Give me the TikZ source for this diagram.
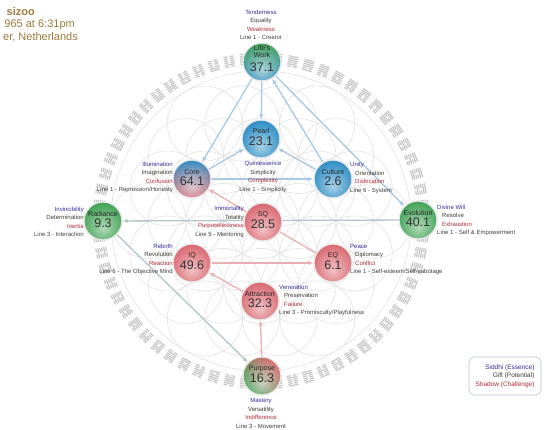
\documentclass[tikz,border=0pt]{standalone}
\usepackage{fontspec}
\setmainfont{Liberation Sans}
\usetikzlibrary{arrows.meta,fadings}
\pgfdeclarelayer{back}
\pgfdeclarelayer{mid}
\pgfsetlayers{back,mid,main}

\definecolor{gkblue}{HTML}{2589C2}
\definecolor{gkblueD}{HTML}{0F4E7C}
\definecolor{gkgreen}{HTML}{3A9F4E}
\definecolor{gkgreenD}{HTML}{17622A}
\definecolor{gkred}{HTML}{D9636C}
\definecolor{gkredD}{HTML}{A82536}
\definecolor{gkmixD}{HTML}{2F3E46}
\definecolor{sidc}{HTML}{2F2F96}
\definecolor{giftc}{HTML}{3C3C30}
\definecolor{shadc}{HTML}{B02A35}
\definecolor{linec}{HTML}{404040}
\definecolor{conblue}{HTML}{A9C8E1}
\definecolor{congrey}{HTML}{B4C5CC}
\definecolor{conred}{HTML}{E8B0B3}
\definecolor{hdrc}{HTML}{9C7B3E}
\definecolor{flowerc}{HTML}{E3E3E3}
\definecolor{hexc}{HTML}{C4C4C4}
\definecolor{legc}{HTML}{B8C2D6}

\pgfdeclareradialshading{gkglowsh}{\pgfpoint{0bp}{-10bp}}{color(0bp)=(white!60!black); color(10bp)=(white!40!black); color(30bp)=(black); color(50bp)=(black)}
\pgfdeclarefading{gkglow}{\pgfuseshading{gkglowsh}}
\pgfdeclareradialshading{gkrimsh}{\pgfpointorigin}{color(0bp)=(black); color(24bp)=(black); color(50bp)=(white!85!black)}
\pgfdeclarefading{gkrim}{\pgfuseshading{gkrimsh}}

\tikzset{
  gkball/.style={circle, minimum size=38pt, inner sep=0pt, draw=white!82!gray, line width=1.3pt},
  gkname/.style={align=center, inner sep=0pt, text=black!85, font=\fontsize{7}{7}\selectfont},
  gknumber/.style={inner sep=0pt, text=black!80, font=\fontsize{12.5}{13}\selectfont},
  lab/.style={inner sep=0pt, text=linec, font=\fontsize{6}{8.4}\selectfont},
  conB/.style={draw=conblue, line width=1.3pt},
  conG/.style={draw=congrey, line width=1.3pt},
  conR/.style={draw=conred, line width=1.3pt},
  gkarrow/.style={-{Latex[length=5pt,width=4.5pt]}},
  hdr/.style={inner sep=0pt, text=hdrc, font=\fontsize{11}{12}\selectfont, anchor=east},
}

\newcommand{\gkball}[4]{%
  \node[gkball, path picture={%
    \fill[#3] (path picture bounding box.south west) rectangle (path picture bounding box.north east);
    \fill[#4, path fading=gkrim] (path picture bounding box.center) circle[radius=19.6pt];
    \fill[white, path fading=gkglow] (path picture bounding box.center) circle[radius=19.6pt];
  }] (#1) at #2 {};}
% name node, number node
\newcommand{\gktext}[5]{%
  \node[gkname] (#1-n) at ([yshift=#4]#1.center) {#2};
  \node[gknumber] (#1-v) at ([yshift=#5]#1.center) {#3};}

\begin{document}
\begin{tikzpicture}[x=1pt,y=-1pt]
\useasboundingbox (0,0) rectangle (544,430);

% background: flower of life and hexagram ring
\begin{pgfonlayer}{back}
\fill[white] (0,0) rectangle (544,430);
\begin{scope}[shift={(261,221)}]
  \begin{scope}
    \clip (0,0) circle[radius=150pt];
    \foreach \a in {-3,...,3} {
      \foreach \b in {-3,...,3} {
        \pgfmathtruncatemacro\c{abs(\a+\b)}
        \ifnum\c<4
          \draw[flowerc, line width=0.6pt] (\a*37.5+\b*18.75, \b*32.476) circle[radius=37.5pt];
        \fi
      }
    }
  \end{scope}
  \draw[flowerc, line width=0.6pt] (0,0) circle[radius=150pt];
  \foreach \i in {0,...,63} {
    \begin{scope}[rotate=\i*5.625]
      \foreach \k in {0,...,5} {
        \pgfmathtruncatemacro\bit{mod(floor(\i/pow(2,\k)),2)}
        \pgfmathsetmacro\rr{157.5+\k*2.0}
        \ifnum\bit=1
          \draw[hexc, line width=1.15pt] (-5,-\rr) -- (5,-\rr);
        \else
          \draw[hexc, line width=1.15pt] (-5,-\rr) -- (-1,-\rr) (1,-\rr) -- (5,-\rr);
        \fi
      }
    \end{scope}
  }
\end{scope}
\end{pgfonlayer}

% header
\node[hdr, font=\fontsize{11}{12}\selectfont\bfseries] (h1) at (35,12) {sizoo};
\node[hdr] (h2) at (75,24.5) {965 at 6:31pm};
\node[hdr] (h3) at (78,37) {er, Netherlands};

% balls
\gkball{lw}{(262,62)}{top color=gkgreen, bottom color=gkblue}{gkmixD}
\gkball{pearl}{(261,139)}{fill=gkblue}{gkblueD}
\gkball{core}{(192,179)}{top color=gkblue, middle color=white!55!gkred, bottom color=gkred}{gkmixD}
\gkball{culture}{(333,179)}{fill=gkblue}{gkblueD}
\gkball{rad}{(103,221)}{fill=gkgreen}{gkgreenD}
\gkball{evo}{(418,220)}{fill=gkgreen}{gkgreenD}
\gkball{sq}{(263,222)}{fill=gkred}{gkredD}
\gkball{iq}{(192,263)}{fill=gkred}{gkredD}
\gkball{eq}{(333,263)}{fill=gkred}{gkredD}
\gkball{attr}{(260,301)}{fill=gkred}{gkredD}
\gkball{purp}{(262,376)}{top color=gkred, bottom color=gkgreen, shading angle=-45}{gkmixD}

% ball texts
\gktext{lw}{Life's\\Work}{37.1}{10pt}{-5.5pt}
\gktext{pearl}{Pearl}{23.1}{8pt}{-2.5pt}
\gktext{core}{Core}{64.1}{7pt}{-2.5pt}
\gktext{culture}{Culture}{2.6}{7pt}{-2.5pt}
\gktext{rad}{Radiance}{9.3}{7pt}{-2.5pt}
\gktext{evo}{Evolution}{40.1}{7pt}{-2.5pt}
\gktext{sq}{SQ}{28.5}{7pt}{-2.5pt}
\gktext{iq}{IQ}{49.6}{7pt}{-2.5pt}
\gktext{eq}{EQ}{6.1}{7pt}{-2.5pt}
\gktext{attr}{Attraction}{32.3}{7pt}{-2.5pt}
\gktext{purp}{Purpose}{16.3}{7pt}{-2.5pt}

% labels
\node[lab, align=center] (lw-l) at (261,25) {\textcolor{sidc}{Tenderness}\\\textcolor{giftc}{Equality}\\\textcolor{shadc}{Weakness}\\Line 1 - Creator};
\node[lab, align=center] (pearl-l) at (263,177) {\textcolor{sidc}{Quintessence}\\\textcolor{giftc}{Simplicity}\\\textcolor{shadc}{Complexity}\\Line 1 - Simplicity};
\node[lab, align=right, anchor=east] (core-l) at (173,177.5) {\textcolor{sidc}{Illumination}\\\textcolor{giftc}{Imagination}\hspace*{3pt}\\\textcolor{shadc}{Confusion}\hspace*{3pt}\\Line 1 - Repression/Honesty};
\node[lab, align=left, anchor=west] (culture-l) at (350,178) {\textcolor{sidc}{Unity}\\\hspace*{5pt}\textcolor{giftc}{Orientation}\\\hspace*{5pt}\textcolor{shadc}{Dislocation}\\Line 6 - System};
\node[lab, align=right, anchor=east] (rad-l) at (84,222) {\textcolor{sidc}{Invincibility}\\\textcolor{giftc}{Determination}\\\textcolor{shadc}{Inertia}\\Line 3 - Interaction};
\node[lab, align=right, anchor=east] (sq-l) at (244,222) {\textcolor{sidc}{Immortality}\\\textcolor{giftc}{Totality}\hspace*{3pt}\\\textcolor{shadc}{Purposelessness}\hspace*{3pt}\\Line 5 - Mentoring};
\node[lab, align=right, anchor=east] (iq-l) at (173,259.5) {\textcolor{sidc}{Rebirth}\\\textcolor{giftc}{Revolution}\hspace*{3pt}\\\textcolor{shadc}{Reaction}\hspace*{3pt}\\Line 6 - The Objective Mind};
\node[lab, align=left, anchor=west] (eq-l) at (350,259.5) {\textcolor{sidc}{Peace}\\\hspace*{5pt}\textcolor{giftc}{Diplomacy}\\\hspace*{5pt}\textcolor{shadc}{Conflict}\\Line 1 - Self-esteem/Self-sabotage};
\node[lab, align=left, anchor=west] (attr-l) at (279,300.5) {\textcolor{sidc}{Veneration}\\\hspace*{5pt}\textcolor{giftc}{Preservation}\\\hspace*{5pt}\textcolor{shadc}{Failure}\\Line 3 - Promiscuity/Playfulness};
\node[lab, align=left, anchor=west] (evo-l) at (437,220.5) {\textcolor{sidc}{Divine Will}\\\hspace*{5pt}\textcolor{giftc}{Resolve}\\\hspace*{5pt}\textcolor{shadc}{Exhaustion}\\Line 1 - Self \& Empowerment};
\node[lab, align=center] (purp-l) at (261,413.5) {\textcolor{sidc}{Mastery}\\\textcolor{giftc}{Versatility}\\\textcolor{shadc}{Indifference}\\Line 3 - Movement};

% legend
\node[draw=legc, rounded corners=5pt, line width=0.6pt, minimum width=72pt, minimum height=38pt, align=right, inner sep=3pt, font=\fontsize{6.5}{8.6}\selectfont] (legend) at (505,376) {\textcolor{sidc}{Siddhi (Essence)}\\\textcolor{giftc}{Gift (Potential)}\\\textcolor{shadc}{Shadow (Challenge)}};

% connectors
\begin{pgfonlayer}{mid}
\draw[conB, gkarrow] (lw) -- (pearl);
\draw[conB, gkarrow] (lw) -- (core);
\draw[conB, gkarrow] (culture) -- (lw);
\draw[conB, gkarrow] (lw) -- (evo);
\draw[conB, gkarrow] (core) -- (pearl);
\draw[conB, gkarrow] (culture) -- (pearl);
\draw[conB, gkarrow] (core) -- (culture);
\draw[conG, gkarrow] (evo) -- (rad);
\draw[conG, gkarrow] (rad) -- (purp);
\draw[conR, gkarrow] (purp) -- (attr);
\draw[conR, gkarrow] (attr) -- (iq);
\draw[conR, gkarrow] (iq) -- (eq);
\draw[conR] (eq) -- (sq);
\draw[conR, gkarrow] (sq) -- (core);
\end{pgfonlayer}
\end{tikzpicture}
\end{document}
